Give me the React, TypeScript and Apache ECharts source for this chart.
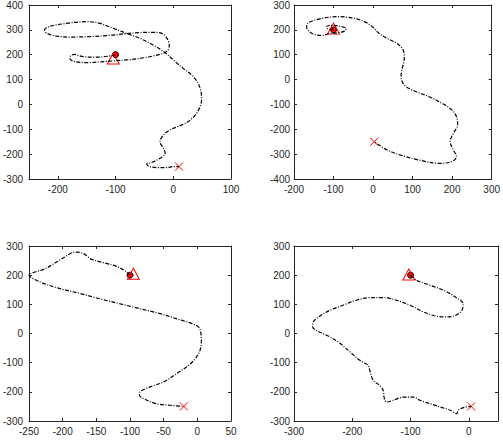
import React, { useEffect, useRef } from "react";
import * as echarts from "echarts";

// ---- data ----
const path1: number[][] = [
  [-100, 200], [-110, 195], [-133, 190], [-156, 192], [-172, 201], [-178, 195], [-179, 184],
  [-170, 172], [-150, 168], [-127, 171], [-104, 175], [-81, 179], [-58, 185], [-35, 195],
  [-17, 206], [-9, 219], [-7, 239], [-11, 266], [-20, 286], [-35, 290], [-58, 289], [-81, 285],
  [-110, 278], [-144, 273], [-179, 271], [-202, 275], [-219, 286], [-223, 299], [-216, 313],
  [-185, 326], [-150, 333], [-127, 326], [-104, 306], [-81, 286], [-58, 266], [-35, 239],
  [-14, 208], [0, 179], [17, 145], [32, 118], [43, 85], [48, 51], [49, 18], [45, -16],
  [38, -43], [26, -69], [12, -85], [-6, -103], [-17, -123], [-23, -150], [-17, -177],
  [-14, -197], [-23, -217], [-37, -233], [-46, -240], [-43, -248], [-29, -254], [-11, -254],
  [0, -250], [10, -250],
];
const path2: number[][] = [
  [-100, 200], [-115, 205], [-118, 213], [-105, 218], [-85, 215], [-68, 205], [-72, 195],
  [-90, 188], [-110, 185], [-128, 178], [-145, 180], [-160, 192], [-168, 210], [-166, 226],
  [-129, 246], [-88, 253], [-47, 246], [-22, 233], [-2, 213], [15, 186], [35, 166], [60, 146],
  [76, 119], [79, 85], [75, 52], [71, 18], [72, -2], [84, -29], [109, -49], [142, -69],
  [175, -96], [199, -122], [211, -149], [214, -183], [203, -216], [195, -250], [203, -283],
  [211, -310], [199, -330], [166, -337], [117, -324], [68, -303], [35, -283], [15, -263],
  [3, -250],
];
const path3: number[][] = [
  [-100, 200], [-107, 214], [-120, 230], [-140, 243], [-157, 254], [-162, 262], [-169, 274],
  [-179, 279], [-187, 276], [-197, 262], [-209, 245], [-226, 222], [-250, 200], [-234, 177],
  [-204, 154], [-174, 137], [-145, 119], [-115, 102], [-85, 85], [-55, 68], [-26, 47],
  [-8, 34], [2, 22], [5, 5], [6, -23], [4, -58], [-3, -86], [-13, -109], [-31, -138],
  [-50, -166], [-70, -183], [-85, -200], [-86, -212], [-80, -223], [-60, -241], [-41, -246],
  [-20, -250],
];
const path4: number[][] = [
  [-100, 200], [-89, 182], [-66, 165], [-43, 148], [-23, 125], [-10, 102], [-12, 79],
  [-23, 62], [-38, 57], [-55, 59], [-78, 74], [-101, 97], [-124, 114], [-147, 123],
  [-170, 123], [-193, 114], [-216, 97], [-239, 79], [-256, 59], [-267, 39], [-268, 22],
  [-262, 11], [-244, -6], [-224, -29], [-204, -63], [-187, -92], [-173, -109], [-170, -126],
  [-164, -161], [-153, -178], [-147, -195], [-145, -223], [-141, -235], [-130, -229],
  [-112, -218], [-95, -218], [-84, -229], [-66, -241], [-49, -252], [-32, -263], [-21, -275],
  [-18, -263], [-9, -254], [4, -250],
];
const paths = [path1, path2, path3, path4];
const startPoints: number[][] = [[-100, 200], [-100, 200], [-100, 200], [-100, 200]];
const trianglePoints: number[][] = [[-104, 185], [-100, 205], [-95, 205], [-103, 202]];
const endPoints: number[][] = [[10, -250], [3, -250], [-20, -250], [4, -250]];

const xMin = [-250, -200, -250, -300];
const xMax = [100, 300, 50, 50];
const yMin = [-300, -400, -300, -300];
const yMax = [400, 300, 300, 300];
const xTicks: number[][] = [
  [-200, -100, 0, 100],
  [-200, -100, 0, 100, 200, 300],
  [-250, -200, -150, -100, -50, 0, 50],
  [-300, -200, -100, 0],
];
const yTicks: number[][] = [
  [-300, -200, -100, 0, 100, 200, 300, 400],
  [-400, -300, -200, -100, 0, 100, 200, 300],
  [-300, -200, -100, 0, 100, 200, 300],
  [-300, -200, -100, 0, 100, 200, 300],
];

const grids = [
  { left: 29, top: 5, width: 202, height: 174 },
  { left: 294, top: 5, width: 204, height: 174 },
  { left: 29, top: 246, width: 202, height: 175 },
  { left: 294, top: 246, width: 204, height: 175 },
];

const AX = "#262626";
const FONT = "'Liberation Sans', Arial, Helvetica, sans-serif";

function makeAxis(gi: number, pos: string, min: number, max: number, ticks: number[], labels: boolean, margin: number) {
  return {
    type: "value",
    gridIndex: gi,
    position: pos,
    min,
    max,
    axisLine: { show: true, onZero: false, lineStyle: { color: AX, width: 1 } },
    axisTick: { show: true, inside: true, length: 3, customValues: ticks, lineStyle: { color: AX, width: 1 } },
    axisLabel: {
      show: labels,
      customValues: ticks,
      color: AX,
      fontSize: 10,
      fontFamily: FONT,
      margin,
    },
    splitLine: { show: false },
  };
}

export default function App() {
  const ref = useRef<HTMLDivElement>(null);
  useEffect(() => {
    if (!ref.current) return;
    const chart = echarts.init(ref.current, undefined, { renderer: "svg" });
    const xAxis: any[] = [];
    const yAxis: any[] = [];
    const series: any[] = [];
    for (let i = 0; i < 4; i++) {
      xAxis.push(makeAxis(i, "bottom", xMin[i], xMax[i], xTicks[i], true, 5));
      xAxis.push(makeAxis(i, "top", xMin[i], xMax[i], xTicks[i], false, 5));
      yAxis.push(makeAxis(i, "left", yMin[i], yMax[i], yTicks[i], true, i % 2 === 0 ? 6 : 4));
      yAxis.push(makeAxis(i, "right", yMin[i], yMax[i], yTicks[i], false, 5));
      const xi = 2 * i;
      const yi = 2 * i;
      series.push({
        type: "line",
        xAxisIndex: xi,
        yAxisIndex: yi,
        data: paths[i],
        smooth: 0.35,
        showSymbol: false,
        symbol: "none",
        silent: true,
        lineStyle: { color: "#000", width: 1.2, type: [4, 1.5, 1, 1.5] },
      });
      series.push({
        type: "scatter",
        xAxisIndex: xi,
        yAxisIndex: yi,
        data: [startPoints[i]],
        symbol: "circle",
        symbolSize: 6,
        silent: true,
        itemStyle: { color: "#ff0000", borderColor: "#000", borderWidth: 1, opacity: 1 },
      });
      series.push({
        type: "scatter",
        xAxisIndex: xi,
        yAxisIndex: yi,
        data: [trianglePoints[i]],
        symbol: "triangle",
        symbolSize: [12, 11],
        silent: true,
        itemStyle: { color: "transparent", borderColor: "#ff0000", borderWidth: 1, opacity: 1 },
      });
      series.push({
        type: "scatter",
        xAxisIndex: xi,
        yAxisIndex: yi,
        data: [endPoints[i]],
        symbol: "path://M0,0L10,10M10,0L0,10",
        symbolSize: 8,
        silent: true,
        itemStyle: { color: "transparent", borderColor: "#ff0000", borderWidth: 1, opacity: 1 },
      });
    }
    chart.setOption({
      animation: false,
      backgroundColor: "#ffffff",
      grid: grids.map((g) => ({ ...g, containLabel: false })),
      xAxis,
      yAxis,
      series,
    });
    return () => chart.dispose();
  }, []);
  return (
    <div
      ref={ref}
      style={{ position: "absolute", left: 0, top: 0, width: 503, height: 442 }}
    />
  );
}
